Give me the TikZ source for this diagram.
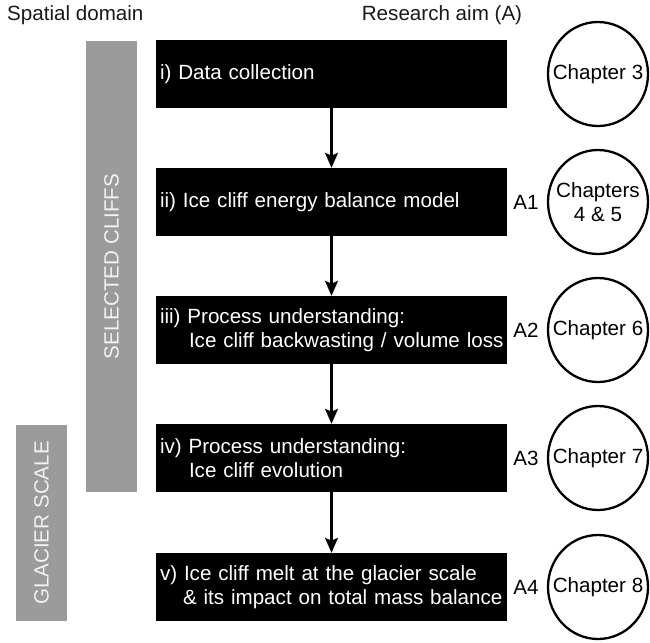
\documentclass[tikz,border=0pt]{standalone}
\usepackage{fontspec}
\setmainfont{Liberation Sans}
\usetikzlibrary{arrows.meta,shapes.geometric}
\definecolor{bargray}{HTML}{9B9B9B}
\definecolor{bartext}{HTML}{F2F2F2}
\newcommand{\figfont}{\fontsize{20.6}{24}\selectfont}
\tikzset{
  stagebox/.style={fill=black, text=white, minimum width=351pt, minimum height=68pt,
    text width=343pt, align=left, inner xsep=4pt, inner ysep=0pt, font=\figfont},
  chap/.style={ellipse, draw=black, line width=2.3pt, minimum width=100pt, minimum height=104pt,
    inner sep=0pt},
  chaptext/.style={align=center, inner sep=0pt, font=\figfont},
  aimlabel/.style={font=\figfont, inner sep=0pt},
  domainbar/.style={fill=bargray, draw=none, inner sep=0pt},
  bartxt/.style={text=bartext, rotate=90, inner sep=0pt, font=\figfont},
  flow/.style={line width=2.3pt, -{Stealth[length=15pt, width=13pt, inset=3pt]}},
  header/.style={inner sep=0pt, font=\figfont, text=black!90}
}
\begin{document}
\begin{tikzpicture}[x=1pt, y=-1pt]
\useasboundingbox (0,0) rectangle (650,642);
% headers
\node[header, anchor=base west] (sd) at (7,21) {Spatial domain};
\node[header, anchor=base] (ra) at (442,21) {Research aim (A)};
% domain bars
\node[domainbar, minimum width=51pt, minimum height=451pt] (selbar) at (111.5,266.5) {};
\node[bartxt] (seltxt) at (selbar.center) {SELECTED CLIFFS};
\node[domainbar, minimum width=51pt, minimum height=196pt] (glabar) at (41.5,523) {};
\node[bartxt] (glatxt) at (glabar.center) {GLACIER SCALE};
% stage boxes
\node[stagebox] (b1) at (331.5,74) {\mbox{i) Data collection}};
\node[stagebox] (b2) at (331.5,202) {\mbox{ii) Ice cliff energy balance model}};
\node[stagebox] (b3) at (331.5,330) {\mbox{iii) Process understanding:}\\\mbox{\hspace*{29pt}Ice cliff backwasting / volume loss}};
\node[stagebox] (b4) at (331.5,458) {\mbox{iv) Process understanding:}\\\mbox{\hspace*{29pt}Ice cliff evolution}};
\node[stagebox] (b5) at (331.5,587) {\mbox{v) Ice cliff melt at the glacier scale}\\\mbox{\hspace*{23pt}\& its impact on total mass balance}};
% arrows
\draw[flow] (b1) -- (b2);
\draw[flow] (b2) -- (b3);
\draw[flow] (b3) -- (b4);
\draw[flow] (b4) -- (b5);
% aim labels
\node[aimlabel] (a1) at (526,202) {A1};
\node[aimlabel] (a2) at (526,330) {A2};
\node[aimlabel] (a3) at (526,458) {A3};
\node[aimlabel] (a4) at (526,587) {A4};
% chapters
\node[chap] (c1) at (598,74) {};
\node[chaptext] (t1) at (c1.center) {Chapter 3};
\node[chap] (c2) at (598,202) {};
\node[chaptext] (t2) at (c2.center) {Chapters\\4 \& 5};
\node[chap] (c3) at (598,330) {};
\node[chaptext] (t3) at (c3.center) {Chapter 6};
\node[chap] (c4) at (598,458) {};
\node[chaptext] (t4) at (c4.center) {Chapter 7};
\node[chap] (c5) at (598,587) {};
\node[chaptext] (t5) at (c5.center) {Chapter 8};
\end{tikzpicture}
\end{document}
